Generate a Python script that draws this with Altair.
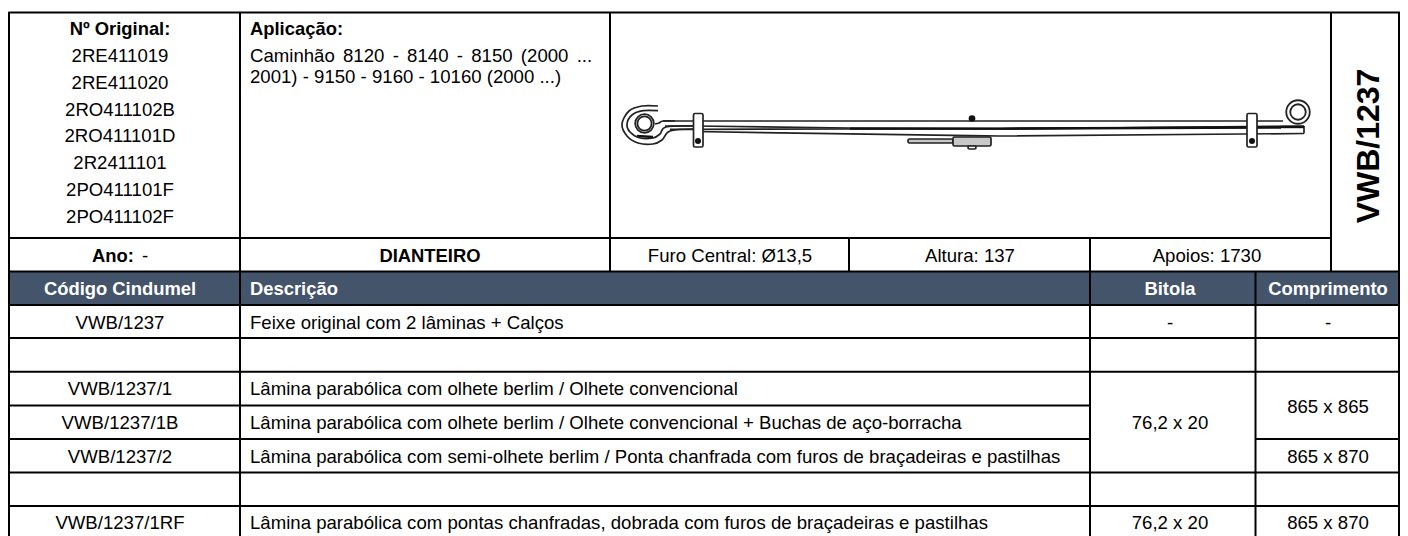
import altair as alt
import pandas as pd

FONT = "Liberation Sans"
BODY = 18.6
HEAD = 18.4

# Table grid segments: x1, x2, y1, y2
grid = [
    (8.5, 1400, 12.5, 12.5), (8.5, 1331, 238, 238), (8.5, 1400, 271.5, 271.5),
    (8.5, 1400, 305, 305), (8.5, 1400, 338, 338), (8.5, 1400, 371.7, 371.7),
    (8.5, 1090, 405.5, 405.5), (8.5, 1090, 439, 439), (1255.5, 1400, 439, 439),
    (8.5, 1400, 472.5, 472.5), (8.5, 1400, 506, 506),
    (9, 9, 12, 536), (240, 240, 12, 536), (610, 610, 12, 271.5),
    (1331, 1331, 12, 271.5), (849, 849, 238, 271.5), (1090, 1090, 238, 536),
    (1255.5, 1255.5, 271.5, 536), (1399, 1399, 12, 536),
]
header_band = [(8.5, 1400, 271.5, 305)]

# Texts: label, x, y
center_normal = [
    ("2RE411019", 120, 56), ("2RE411020", 120, 83), ("2RO411102B", 120, 110),
    ("2RO411101D", 120, 136), ("2R2411101", 120, 163), ("2PO411101F", 120, 190),
    ("2PO411102F", 120, 217),
    ("Furo Central: Ø13,5", 730, 256), ("Altura: 137", 970, 256), ("Apoios: 1730", 1207, 256),
    ("VWB/1237", 120, 322.5), ("VWB/1237/1", 120, 389), ("VWB/1237/1B", 120, 422.5),
    ("VWB/1237/2", 120, 456.5), ("VWB/1237/1RF", 120, 523),
    ("-", 1170, 323), ("-", 1328, 323), ("76,2 x 20", 1170, 423), ("76,2 x 20", 1170, 523),
    ("865 x 865", 1328, 406.5), ("865 x 870", 1328, 456.5), ("865 x 870", 1328, 523),
]
left_normal = [
    ("Caminhão \u200a\u200a8120 \u200a\u200a- \u200a\u200a8140 \u200a\u200a- \u200a\u200a8150 \u200a\u200a(2000 \u200a\u200a...", 250, 56),
    ("2001) - 9150 - 9160 - 10160 (2000 ...)", 250, 77),
    ("Feixe original com 2 lâminas + Calços", 250, 322.5),
    ("Lâmina parabólica com olhete berlim / Olhete convencional", 250, 389),
    ("Lâmina parabólica com olhete berlim / Olhete convencional + Buchas de aço-borracha", 250, 422.5),
    ("Lâmina parabólica com semi-olhete berlim / Ponta chanfrada com furos de braçadeiras e pastilhas", 250, 456.5),
    ("Lâmina parabólica com pontas chanfradas, dobrada com furos de braçadeiras e pastilhas", 250, 523),
]
center_bold = [("Nº Original:", 120, 29), ("DIANTEIRO", 430, 256)]
left_bold = [("Aplicação:", 250, 29)]
ano_bold = [("Ano:", 113, 256)]
ano_dash = [("-", 145, 256)]
white_center = [("Código Cindumel", 120, 289), ("Bitola", 1170, 289), ("Comprimento", 1328, 289)]
white_left = [("Descrição", 250, 289)]
rot_title = [("VWB/1237", 1369, 146)]

# Spring drawing: straight strokes (id, [(x, y), ...])
straight = {
    "topleaf_top": [(663, 121), (1283, 121)],
    "topleaf_bottom": [(665, 126), (695, 126), (850, 128), (1000, 128.5), (1281, 127)],
    "second_top": [(670, 129.3), (695, 129.3), (850, 129), (1000, 129), (1304, 126)],
    "second_bottom": [(693, 131.5), (970, 135.7), (1000, 136), (1304, 133.5)],
    "second_end": [(1304, 126), (1304, 133.5)],
}
heavy = {
    "dark_mid": [(850, 128.6), (1000, 128.6), (1281, 127.5)],
    "dark_tip": [(1281, 127), (1304, 127)],
    "dark_eye": [(637, 136), (653, 137)],
}
# Curved strokes of the eyes
curved = {
    "outer": [(658, 106), (642, 106), (629, 111), (622, 124), (627, 136), (638, 143),
              (653, 144), (662, 140), (670, 131), (693, 129)],
    "middle": [(658, 110.7), (643, 110.7), (632, 115), (627, 124), (630, 132), (640, 138),
               (653, 138), (660, 134), (666, 127), (693, 126)],
    "neck": [(655, 124), (659, 123), (663, 121), (675, 121)],
}
circles_open = [(644.5, 123.5, 21), (644.5, 123.5, 16), (1298, 112, 26.5), (1298, 112, 17.5)]  # cx, cy, diameter
# Rectangles: x1, x2, y1, y2, fill
rects = [
    (693.5, 703, 113.5, 147, "#ffffff"), (1247, 1257, 113.5, 147, "#ffffff"),
    (908, 953, 139, 143, "#c8c8c8"), (953, 991, 137, 146, "#c8c8c8"),
    (968, 976, 146, 149, "#ffffff"),
]
dots = [(698, 141, 36), (1252, 141, 36), (972, 118.5, 44)]

X = dict(scale=alt.Scale(domain=[8, 1400], nice=False, zero=False), axis=None)
Y = dict(scale=alt.Scale(domain=[536, 8], nice=False, zero=False), axis=None)


def xy():
    return dict(x=alt.X("x:Q", **X), y=alt.Y("y:Q", **Y))


def seg_df(rows):
    return pd.DataFrame(rows, columns=["x", "x2", "y", "y2"])


def text_layer(rows, **kw):
    df = pd.DataFrame(rows, columns=["t", "x", "y"])
    base = dict(font=FONT, fontSize=BODY, baseline="middle", color="#000000")
    base.update(kw)
    return alt.Chart(df).mark_text(**base).encode(text="t:N", **xy())


def poly_df(d):
    return pd.DataFrame(
        [(k, i, p[0], p[1]) for k, pts in d.items() for i, p in enumerate(pts)],
        columns=["id", "i", "x", "y"],
    )


def lines(d, width, interp="linear", color="#222222"):
    return alt.Chart(poly_df(d)).mark_line(
        stroke=color, strokeWidth=width, interpolate=interp
    ).encode(detail="id:N", order="i:Q", **xy())


band = alt.Chart(seg_df(header_band)).mark_rect(fill="#44546A").encode(
    x=alt.X("x:Q", **X), x2="x2:Q", y=alt.Y("y:Q", **Y), y2="y2:Q")
gridlines = alt.Chart(seg_df(grid)).mark_rule(stroke="#000000", strokeWidth=2).encode(
    x=alt.X("x:Q", **X), x2="x2:Q", y=alt.Y("y:Q", **Y), y2="y2:Q")

rdf = pd.DataFrame(rects, columns=["x", "x2", "y", "y2", "f"])
rect_marks = alt.Chart(rdf).mark_rect(stroke="#222222", strokeWidth=1.7, cornerRadius=1.5).encode(
    x=alt.X("x:Q", **X), x2="x2:Q", y=alt.Y("y:Q", **Y), y2="y2:Q",
    fill=alt.Fill("f:N", scale=None))
ring_marks = alt.Chart(pd.DataFrame(circles_open, columns=["x", "y", "d"])).mark_point(
    filled=False, stroke="#222222", strokeWidth=1.8, opacity=1
).encode(size=alt.Size("d2:Q", scale=None, legend=None), **xy()).transform_calculate(d2="datum.d*datum.d*0.7854")
dot_marks = alt.Chart(pd.DataFrame(dots, columns=["x", "y", "s"])).mark_point(
    filled=True, fill="#111111", opacity=1
).encode(size=alt.Size("s:Q", scale=None, legend=None), **xy())

chart = alt.layer(
    band,
    gridlines,
    lines(straight, 1.7),
    lines(heavy, 2.4, color="#111111"),
    lines(curved, 1.7, "cardinal"),
    ring_marks,
    rect_marks,
    dot_marks,
    text_layer(center_normal, align="center"),
    text_layer(left_normal, align="left"),
    text_layer(center_bold, align="center", fontWeight="bold", fontSize=HEAD),
    text_layer(left_bold, align="left", fontWeight="bold", fontSize=HEAD),
    text_layer(ano_bold, align="center", fontWeight="bold", fontSize=HEAD),
    text_layer(ano_dash, align="center"),
    text_layer(white_center, align="center", fontWeight="bold", color="#ffffff", fontSize=HEAD),
    text_layer(white_left, align="left", fontWeight="bold", color="#ffffff", fontSize=HEAD),
    text_layer(rot_title, align="center", fontWeight="bold", fontSize=32, angle=270),
).properties(width=1392, height=528, padding=0, autosize=alt.AutoSizeParams(type="none")).configure_view(stroke=None)

chart.save("out.html", embed_options={"renderer": "svg", "actions": False})
